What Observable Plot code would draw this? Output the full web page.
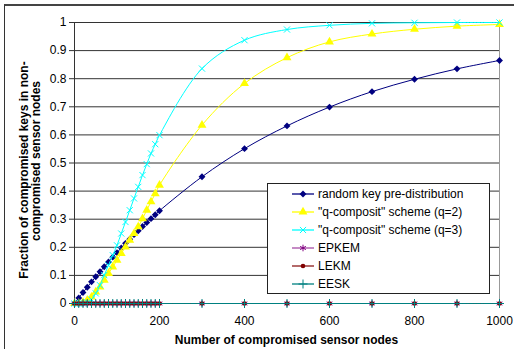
<!DOCTYPE html>
<html>
<head>
<meta charset="utf-8">
<script src="https://cdn.jsdelivr.net/npm/d3@7"></script>
<script src="https://cdn.jsdelivr.net/npm/@observablehq/plot@0.6"></script>
<style>
  html, body { margin: 0; padding: 0; background: #fff; }
  #wrap { position: relative; width: 514px; height: 353px; overflow: hidden; }
  #border { position: absolute; left: 4px; top: 4px; width: 520px; height: 343px;
            border-left: 1px solid #333; border-top: 2px solid #444; pointer-events: none; }
</style>
</head>
<body>
<div id="wrap"><div id="border"></div></div>
<script>
// ---- data ----
const xValues = [0,10,20,30,40,50,60,70,80,90,100,110,120,130,140,150,160,170,180,190,200,300,400,500,600,700,800,900,1000];
const randomKey = [0,0.020,0.039,0.058,0.077,0.095,0.113,0.131,0.148,0.165,0.181,0.198,0.214,0.229,0.245,0.259,0.274,0.288,0.302,0.316,0.330,0.451,0.551,0.632,0.699,0.754,0.798,0.835,0.865];
const qComposite2 = [0,0,0.004,0.012,0.023,0.041,0.059,0.083,0.107,0.130,0.154,0.178,0.201,0.225,0.249,0.273,0.302,0.332,0.362,0.391,0.421,0.635,0.783,0.875,0.931,0.959,0.976,0.987,0.993];
const qComposite3 = [0,0,0,0.004,0.014,0.036,0.065,0.101,0.136,0.172,0.207,0.249,0.290,0.332,0.374,0.415,0.457,0.496,0.534,0.567,0.599,0.836,0.937,0.975,0.990,0.997,0.999,1.0,1.0];
const epkem = [0,0,0,0,0,0,0,0,0,0,0,0,0,0,0,0,0,0,0,0,0,0,0,0,0,0,0,0,0];
const lekm  = [0,0,0,0,0,0,0,0,0,0,0,0,0,0,0,0,0,0,0,0,0,0,0,0,0,0,0,0,0];
const eesk  = [0,0,0,0,0,0,0,0,0,0,0,0,0,0,0,0,0,0,0,0,0,0,0,0,0,0,0,0,0];
const seriesNames = ["random key pre-distribution", "\"q-composit\" scheme (q=2)", "\"q-composit\" scheme (q=3)", "EPKEM", "LEKM", "EESK"];
const xTicks = [0,200,400,600,800,1000];
const yTicks = [0,0.1,0.2,0.3,0.4,0.5,0.6,0.7,0.8,0.9,1];
const xTitle = "Number of compromised sensor nodes";
const yTitleLines = ["Fraction of compromised keys in non-", "compromised sensor nodes"];

// ---- styles ----
const seriesValues = [randomKey, qComposite2, qComposite3, epkem, lekm, eesk];
const styles = [
  {line: "#000080", symbol: "diamond2", fill: "#000080", stroke: "none", r: 3.1},
  {line: "#ffff00", symbol: "triangle", fill: "#ffff00", stroke: "none", r: 3.3},
  {line: "#00ffff", symbol: "times", fill: "none", stroke: "#00ffff", r: 2.9},
  {line: "#a64ca6", symbol: "asterisk", fill: "none", stroke: "#800080", r: 3.1},
  {line: "#8b1a1a", symbol: "circle", fill: "#800000", stroke: "none", r: 2.3},
  {line: "#008080", symbol: "plus", fill: "none", stroke: "#008080", r: 3.0}
];
const font = "Arial, 'Liberation Sans', sans-serif";

const series = seriesNames.map((name, k) => ({
  name, style: styles[k],
  rows: xValues.map((x, i) => ({x, y: seriesValues[k][i], name}))
}));

const marks = [
  Plot.ruleY(yTicks.filter(d => d > 0), {stroke: "#333", strokeWidth: 1}),
  Plot.ruleX([1000], {stroke: "#999", strokeWidth: 1}),
  Plot.ruleY([0], {stroke: "#333"}),
  Plot.ruleX([0], {stroke: "#333"}),
  Plot.axisY({ticks: yTicks, tickFormat: d => String(d), tickSize: 5, tickPadding: 3, fontSize: 12, stroke: "#333", label: null}),
  Plot.axisX({ticks: xTicks, tickFormat: d => String(d), tickSize: 0, tickPadding: 13, fontSize: 12, label: null})
];
for (const s of series) {
  marks.push(Plot.line(s.rows, {x: "x", y: "y", stroke: s.style.line, strokeWidth: 1, curve: "catmull-rom"}));
  marks.push(Plot.dot(s.rows, {x: "x", y: "y", symbol: () => s.style.symbol, r: s.style.r,
    fill: s.style.fill, stroke: s.style.stroke, strokeWidth: 1}));
}

const plot = Plot.plot({
  width: 514, height: 353,
  marginLeft: 74, marginRight: 15, marginTop: 22, marginBottom: 50,
  x: {domain: [0, 1000], axis: null},
  y: {domain: [0, 1], axis: null},
  symbol: {type: "identity"},
  style: {fontFamily: font, fontSize: "12px", color: "#000", background: "transparent", overflow: "visible"},
  marks
});

const svg = d3.select(plot);
// axis titles
svg.append("text").attr("x", 286.5).attr("y", 344).attr("text-anchor", "middle")
  .attr("font-weight", "bold").attr("font-size", 12).attr("fill", "#000").text(xTitle);
const yPos = [[28, 170], [40, 161]];
yTitleLines.forEach((t, i) => {
  svg.append("text").attr("transform", `translate(${yPos[i][0]},${yPos[i][1]}) rotate(-90)`)
    .attr("text-anchor", "middle").attr("font-weight", "bold").attr("font-size", 12).attr("fill", "#000").text(t);
});

// legend
const symbolTypes = {diamond2: d3.symbolDiamond2, triangle: d3.symbolTriangle, times: d3.symbolTimes,
  asterisk: d3.symbolAsterisk, circle: d3.symbolCircle, plus: d3.symbolPlus};
const lg = svg.append("g").attr("text-anchor", "start");
const L = {x: 267.5, y: 183.5, w: 222, h: 110};
lg.append("rect").attr("x", L.x).attr("y", L.y).attr("width", L.w).attr("height", L.h)
  .attr("fill", "#fff").attr("stroke", "#222").attr("stroke-width", 1);
series.forEach((s, i) => {
  const cy = L.y + 10.5 + i * 18;
  lg.append("line").attr("x1", 292).attr("x2", 314).attr("y1", cy).attr("y2", cy)
    .attr("stroke", s.style.line).attr("stroke-width", 1.3);
  lg.append("path").attr("transform", `translate(303,${cy})`)
    .attr("d", d3.symbol(symbolTypes[s.style.symbol], Math.PI * s.style.r * s.style.r)())
    .attr("fill", s.style.fill).attr("stroke", s.style.stroke).attr("stroke-width", 1);
  lg.append("text").attr("x", 318).attr("y", cy).attr("dy", "0.35em").attr("font-size", 12)
    .attr("text-anchor", "start").attr("fill", "#000").text(s.name);
});

plot.style.position = "absolute";
plot.style.left = "0px";
plot.style.top = "0px";
document.getElementById("wrap").prepend(plot);
</script>
</body>
</html>
